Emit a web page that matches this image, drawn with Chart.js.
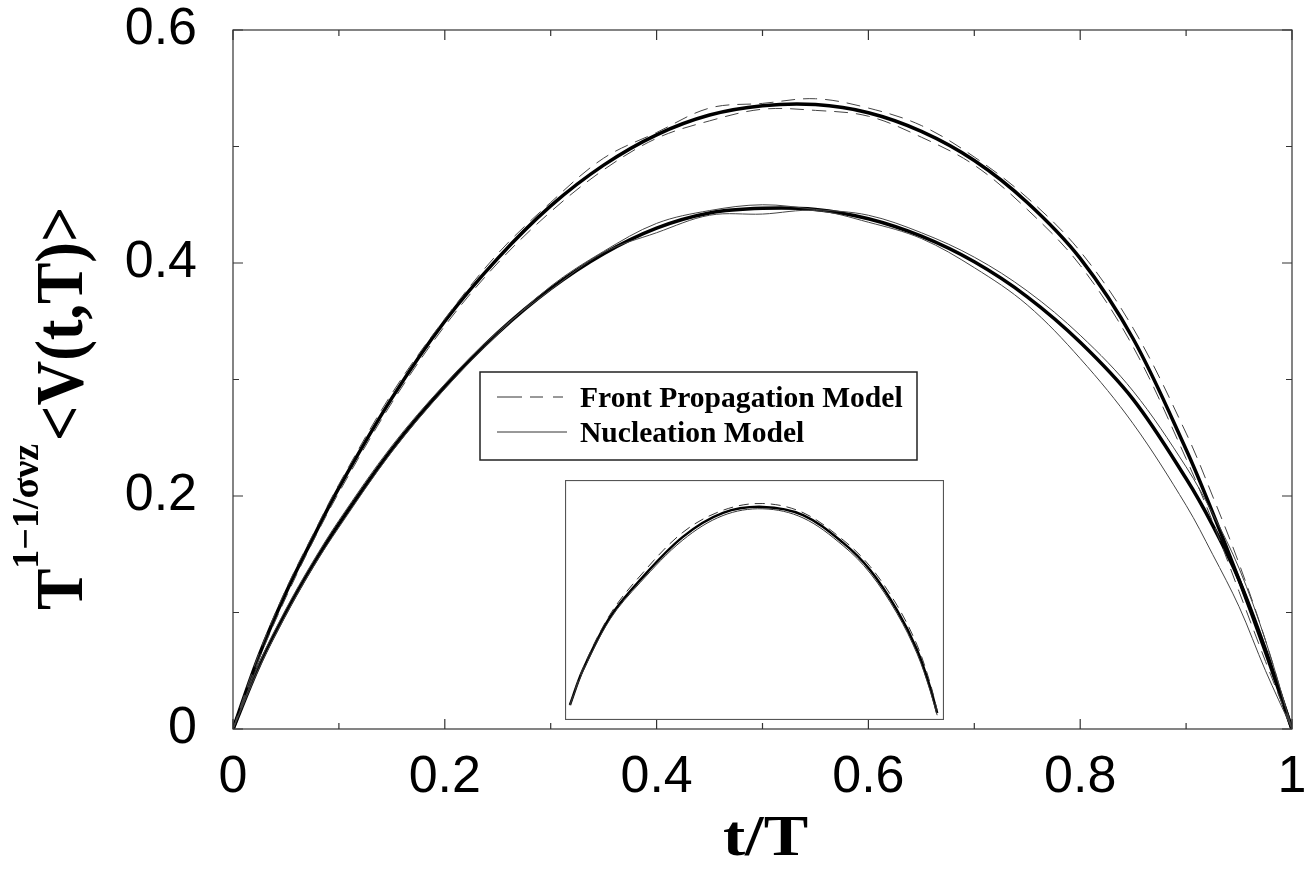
<!DOCTYPE html>
<html>
<head>
<meta charset="utf-8">
<title>Average avalanche shape</title>
<script src="https://cdn.jsdelivr.net/npm/chart.js@4.4.1/dist/chart.umd.min.js"></script>
<style>
  html, body { margin: 0; padding: 0; background: #fff; }
  #wrap { position: relative; width: 1309px; height: 869px; }
  #main { position: absolute; left: 0; top: 0; }
  #inset { position: absolute; left: 565px; top: 480px; }
</style>
</head>
<body>
<div id="wrap">
  <canvas id="main" width="1309" height="869"></canvas>
  <canvas id="inset" width="379" height="240"></canvas>
</div>
<script>
// t/T sample points shared by all curves of the main panel
const tValues = [0, 0.025, 0.05, 0.075, 0.1, 0.15, 0.2, 0.25, 0.3, 0.35, 0.4, 0.45, 0.5,
                 0.55, 0.6, 0.65, 0.7, 0.75, 0.8, 0.85, 0.9, 0.925, 0.95, 0.975, 1];

// front propagation model: two sizes (dashed) and the fitted shape (thick)
const frontSmall = [0, 0.066, 0.120, 0.166, 0.210, 0.288, 0.352, 0.408, 0.452, 0.490, 0.512, 0.533, 0.537,
                    0.541, 0.533, 0.518, 0.491, 0.456, 0.410, 0.344, 0.254, 0.200, 0.142, 0.076, 0];
const frontLarge = [0, 0.061, 0.113, 0.160, 0.203, 0.280, 0.346, 0.400, 0.444, 0.480, 0.507, 0.522, 0.532,
                    0.531, 0.526, 0.508, 0.484, 0.446, 0.398, 0.328, 0.232, 0.178, 0.118, 0.058, 0];
const frontFit   = [0, 0.064, 0.117, 0.163, 0.207, 0.284, 0.350, 0.404, 0.449, 0.484, 0.510, 0.527, 0.535,
                    0.536, 0.529, 0.513, 0.488, 0.452, 0.404, 0.335, 0.240, 0.186, 0.128, 0.066, 0];

// nucleation model: two sizes (thin solid) and the fitted shape (thick)
const nuclSmall = [0, 0.057, 0.103, 0.143, 0.179, 0.243, 0.296, 0.341, 0.377, 0.409, 0.426, 0.441, 0.442,
                   0.445, 0.435, 0.421, 0.396, 0.364, 0.318, 0.262, 0.192, 0.150, 0.105, 0.050, 0];
const nuclLarge = [0, 0.053, 0.098, 0.138, 0.173, 0.238, 0.292, 0.339, 0.380, 0.410, 0.434, 0.445, 0.450,
                   0.446, 0.441, 0.426, 0.405, 0.376, 0.338, 0.290, 0.225, 0.185, 0.138, 0.076, 0];
const nuclFit   = [0, 0.055, 0.100, 0.140, 0.176, 0.240, 0.294, 0.340, 0.378, 0.408, 0.430, 0.443, 0.447,
                   0.446, 0.438, 0.423, 0.401, 0.371, 0.332, 0.283, 0.215, 0.175, 0.128, 0.068, 0];

const xTicks = [0, 0.2, 0.4, 0.6, 0.8, 1];
const yTicks = [0, 0.2, 0.4, 0.6];

// inset: both models rescaled onto one shape
const insetT     = [0.013, 0.047, 0.119, 0.198, 0.311, 0.417, 0.522, 0.628, 0.734, 0.805, 0.876, 0.929, 0.963, 0.982];
const insetFront = [0.062, 0.214, 0.440, 0.600, 0.782, 0.874, 0.902, 0.864, 0.750, 0.640, 0.478, 0.312, 0.156, 0.040];
const insetNucl  = [0.062, 0.202, 0.420, 0.572, 0.750, 0.852, 0.880, 0.842, 0.726, 0.612, 0.444, 0.276, 0.124, 0.020];
const insetFit   = [0.0625, 0.208, 0.429, 0.583, 0.763, 0.863, 0.888, 0.854, 0.738, 0.625, 0.458, 0.292, 0.138, 0.029];

const legendItems = ['Front Propagation Model', 'Nucleation Model'];

const pts = (xs, ys) => xs.map((x, i) => ({ x: x, y: ys[i] }));

function curve(data, width, dash, color) {
    return {
        data: data,
        showLine: true,
        borderColor: color,
        borderWidth: width,
        borderDash: dash,
        pointRadius: 0,
        tension: 0.35,
        fill: false
    };
}

const SERIF = '"Liberation Serif", "Times New Roman", serif';
const SANS = '"Liberation Sans", Arial, sans-serif';

// frame, inward ticks, axis titles and boxed legend
const decorations = {
    id: 'decorations',
    afterDatasetsDraw(chart) {
        const ctx = chart.ctx;
        const a = chart.chartArea;
        const xs = chart.scales.x, ys = chart.scales.y;
        ctx.save();
        ctx.strokeStyle = '#333';
        ctx.lineWidth = 1.2;
        ctx.strokeRect(a.left, a.top, a.right - a.left, a.bottom - a.top);

        ctx.beginPath();
        for (let i = 0; i <= 10; i++) {
            const v = i / 10;
            const len = i % 2 === 0 ? 10 : 6;
            const px = xs.getPixelForValue(v);
            ctx.moveTo(px, a.bottom); ctx.lineTo(px, a.bottom - len);
            ctx.moveTo(px, a.top); ctx.lineTo(px, a.top + len);
        }
        for (let i = 0; i <= 6; i++) {
            const v = i / 10;
            const len = i % 2 === 0 ? 10 : 6;
            const py = ys.getPixelForValue(v);
            ctx.moveTo(a.left, py); ctx.lineTo(a.left + len, py);
            ctx.moveTo(a.right, py); ctx.lineTo(a.right - len, py);
        }
        ctx.stroke();

        ctx.fillStyle = '#000';
        ctx.textBaseline = 'alphabetic';

        // x title
        ctx.save();
        ctx.translate((a.left + a.right) / 2 + 3, 855);
        ctx.scale(1.19, 1);
        ctx.font = 'bold 56px ' + SERIF;
        ctx.textAlign = 'center';
        ctx.fillText('t/T', 0, 0);
        ctx.restore();

        // y title with exponent
        ctx.save();
        ctx.translate(82, 610);
        ctx.rotate(-Math.PI / 2);
        ctx.textAlign = 'left';
        ctx.save();
        ctx.scale(1, 1.1);
        ctx.font = 'bold 62px ' + SERIF;
        ctx.fillText('T', 0, 0);
        ctx.restore();
        ctx.font = 'bold 62px ' + SERIF;
        let off = ctx.measureText('T').width;
        ctx.font = 'bold 38px ' + SERIF;
        const sup = '1\u22121/\u03c3\u03bdz';
        ctx.fillText(sup, off, -44);
        off += ctx.measureText(sup).width + 3;
        ctx.save();
        ctx.scale(1, 1.1);
        ctx.font = 'bold 62px ' + SERIF;
        ctx.fillText('<V(t,T)>', off, 0);
        ctx.restore();
        ctx.restore();

        // legend box
        ctx.fillStyle = '#fff';
        ctx.fillRect(480, 372, 437, 88);
        ctx.strokeStyle = '#222';
        ctx.lineWidth = 1.5;
        ctx.strokeRect(480, 372, 437, 88);
        const rows = [397, 432];
        ctx.lineWidth = 1;
        ctx.strokeStyle = '#333';
        ctx.beginPath();
        ctx.setLineDash([25, 8, 13, 10, 10, 40]);
        ctx.moveTo(497, rows[0]); ctx.lineTo(567, rows[0]);
        ctx.stroke();
        ctx.setLineDash([]);
        ctx.beginPath();
        ctx.moveTo(497, rows[1]); ctx.lineTo(567, rows[1]);
        ctx.stroke();
        ctx.fillStyle = '#000';
        legendItems.forEach((label, i) => {
            ctx.save();
            ctx.translate(580, rows[i] + 10);
            ctx.scale(1.02, 1.05);
            ctx.font = 'bold 29px ' + SERIF;
            ctx.textAlign = 'left';
            ctx.fillText(label, 0, 0);
            ctx.restore();
        });
        ctx.restore();
    }
};

function initMain() {
    const ctx = document.getElementById('main');
    new Chart(ctx, {
        type: 'scatter',
        data: {
            datasets: [
                curve(pts(tValues, frontSmall), 1, [14, 8], '#444'),
                curve(pts(tValues, frontLarge), 1, [14, 8], '#444'),
                curve(pts(tValues, nuclSmall), 1, [], '#444'),
                curve(pts(tValues, nuclLarge), 1, [], '#444'),
                curve(pts(tValues, frontFit), 3.5, [], '#000'),
                curve(pts(tValues, nuclFit), 3.5, [], '#000')
            ]
        },
        options: {
            responsive: false,
            animation: false,
            devicePixelRatio: 1,
            layout: { padding: { top: 30, right: 17, left: 0, bottom: 0 } },
            plugins: { legend: { display: false }, tooltip: { enabled: false } },
            scales: {
                x: {
                    type: 'linear', min: 0, max: 1,
                    afterFit: s => { s.height = 140; s.paddingLeft = 0; s.paddingRight = 0; },
                    afterBuildTicks: s => { s.ticks = xTicks.map(v => ({ value: v })); },
                    grid: { display: true, drawOnChartArea: false, drawTicks: false },
                    border: { display: false },
                    ticks: {
                        padding: 17, color: '#000',
                        font: { family: SANS, size: 52 },
                        callback: v => String(+v.toFixed(1))
                    }
                },
                y: {
                    type: 'linear', min: 0, max: 0.6,
                    afterFit: s => { s.width = 233; s.paddingTop = 0; s.paddingBottom = 0; },
                    afterBuildTicks: s => { s.ticks = yTicks.map(v => ({ value: v })); },
                    grid: { display: true, drawOnChartArea: false, drawTicks: false },
                    border: { display: false },
                    ticks: {
                        padding: 36, color: '#000',
                        font: { family: SANS, size: 52 },
                        callback: v => String(+v.toFixed(1))
                    }
                }
            }
        },
        plugins: [decorations]
    });
}

// thin frame around the inset panel
const insetFrame = {
    id: 'insetFrame',
    afterDatasetsDraw(chart) {
        const c = chart.ctx;
        c.save();
        c.strokeStyle = '#555';
        c.lineWidth = 1.2;
        c.strokeRect(0.5, 0.5, chart.width - 1, chart.height - 1);
        c.restore();
    }
};

function initInset() {
    const ctx = document.getElementById('inset');
    new Chart(ctx, {
        type: 'scatter',
        data: {
            datasets: [
                curve(pts(insetT, insetFront), 1, [10, 6], '#333'),
                curve(pts(insetT, insetNucl), 1, [], '#333'),
                curve(pts(insetT, insetFit), 2.5, [], '#000')
            ]
        },
        options: {
            responsive: false,
            animation: false,
            devicePixelRatio: 1,
            layout: { padding: 0 },
            plugins: { legend: { display: false }, tooltip: { enabled: false } },
            scales: {
                x: { type: 'linear', min: 0, max: 1, display: false },
                y: { type: 'linear', min: 0, max: 1, display: false }
            }
        },
        plugins: [insetFrame]
    });
}

initMain();
initInset();
</script>
</body>
</html>
